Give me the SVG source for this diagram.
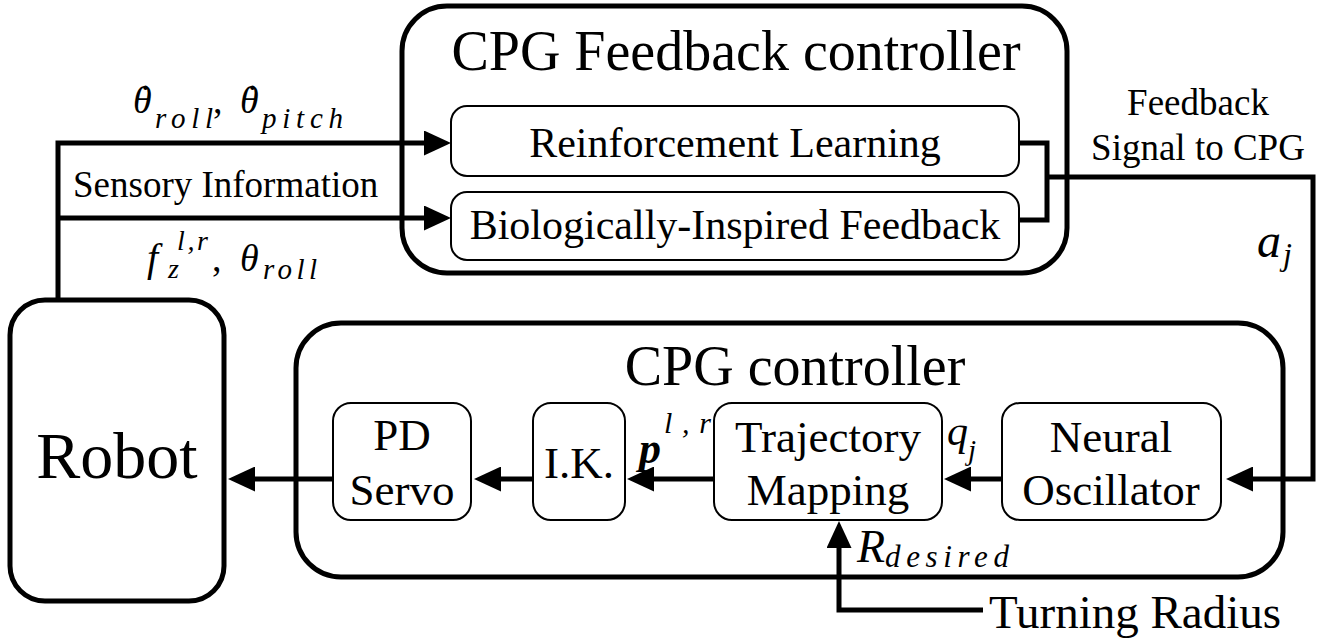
<svg xmlns="http://www.w3.org/2000/svg" width="1333" height="643" viewBox="0 0 1333 643" font-family="Liberation Serif, Times New Roman, serif">
<style>
.big{fill:#fff;stroke:#000;stroke-width:5}
.box{fill:#fff;stroke:#000;stroke-width:2}
.ln{fill:none;stroke:#000;stroke-width:5}
</style>
<defs>
<marker id="ah" markerUnits="userSpaceOnUse" markerWidth="27" markerHeight="25" refX="0" refY="12.5" orient="auto" viewBox="0 0 27 25">
<path d="M0,0 L27,12.5 L0,25 z" fill="#000"/>
</marker>
</defs>

<g id="fb-controller">
<rect class="big" x="402" y="6" width="665" height="267" rx="45"/>
<text x="736" y="70" font-family="Liberation Serif" font-size="56" text-anchor="middle">CPG Feedback controller</text>
</g>
<g id="rl">
<rect class="box" x="451" y="106" width="568" height="70" rx="16"/>
<text x="735" y="157" font-family="Liberation Serif" font-size="42" text-anchor="middle">Reinforcement Learning</text>
</g>
<g id="bif">
<rect class="box" x="451" y="192" width="568" height="68" rx="16"/>
<text x="735" y="239" font-family="Liberation Serif" font-size="42" text-anchor="middle">Biologically-Inspired Feedback</text>
</g>

<g id="cpg-controller">
<rect class="big" x="296" y="323" width="987" height="254" rx="45"/>
<text x="795" y="385" font-family="Liberation Serif" font-size="56" text-anchor="middle">CPG controller</text>
</g>

<g id="robot">
<rect class="big" x="10" y="300" width="214" height="301" rx="35"/>
<text x="117" y="478" font-family="Liberation Serif" font-size="66" text-anchor="middle">Robot</text>
</g>

<g id="pd">
<rect class="box" x="333" y="403" width="138" height="117" rx="18"/>
<text x="402" y="450" font-family="Liberation Serif" font-size="45" text-anchor="middle">PD</text>
<text x="402" y="505" font-family="Liberation Serif" font-size="45" text-anchor="middle">Servo</text>
</g>
<g id="ik">
<rect class="box" x="533" y="403" width="92" height="117" rx="18"/>
<text x="579" y="478" font-family="Liberation Serif" font-size="45" text-anchor="middle">I.K.</text>
</g>
<g id="traj">
<rect class="box" x="714" y="403" width="228" height="117" rx="18"/>
<text x="828" y="452" font-family="Liberation Serif" font-size="45" text-anchor="middle">Trajectory</text>
<text x="828" y="505" font-family="Liberation Serif" font-size="45" text-anchor="middle">Mapping</text>
</g>
<g id="neural">
<rect class="box" x="1002" y="403" width="219" height="117" rx="18"/>
<text x="1111" y="452" font-family="Liberation Serif" font-size="45" text-anchor="middle">Neural</text>
<text x="1111" y="505" font-family="Liberation Serif" font-size="45" text-anchor="middle">Oscillator</text>
</g>

<g id="connectors">
<path class="ln" d="M58,300 V143 H424" marker-end="url(#ah)"/>
<path class="ln" d="M58,218 H424" marker-end="url(#ah)"/>
<path class="ln" d="M1019,143 H1047 V220 H1019"/>
<path class="ln" d="M1047,177 H1313 V479 H1253" marker-end="url(#ah)"/>
<path class="ln" d="M1002,479 H971" marker-end="url(#ah)"/>
<path class="ln" d="M714,479 H654" marker-end="url(#ah)"/>
<path class="ln" d="M533,479 H501" marker-end="url(#ah)"/>
<path class="ln" d="M333,479 H255" marker-end="url(#ah)"/>
<path class="ln" d="M983,610 H839 V548" marker-end="url(#ah)"/>
</g>

<g id="labels">
<text x="73" y="197" font-family="Liberation Serif" font-size="37">Sensory Information</text>
<text x="1198" y="115" font-family="Liberation Serif" font-size="37" text-anchor="middle">Feedback</text>
<text x="1198" y="160" font-family="Liberation Serif" font-size="37" text-anchor="middle">Signal to CPG</text>
<text x="989" y="628" font-family="Liberation Serif" font-size="47">Turning Radius</text>

<text x="133" y="113" font-family="Liberation Serif" font-style="italic" font-size="38">θ<tspan dx="-11" dy="-23" font-style="normal">.</tspan></text>
<text x="155" y="128" font-family="Liberation Serif" font-style="italic" font-size="29" textLength="58" lengthAdjust="spacing">roll</text>
<text x="213" y="113" font-family="Liberation Serif" font-size="38">,</text>
<text x="240" y="113" font-family="Liberation Serif" font-style="italic" font-size="38">θ<tspan dx="-11" dy="-23" font-style="normal">.</tspan></text>
<text x="262" y="128" font-family="Liberation Serif" font-style="italic" font-size="29" textLength="81" lengthAdjust="spacing">pitch</text>

<text x="147" y="271" font-family="Liberation Serif" font-style="italic" font-size="40">f</text>
<text x="168" y="278" font-family="Liberation Serif" font-style="italic" font-size="28">z</text>
<text x="177" y="250" font-family="Liberation Serif" font-style="italic" font-size="28" textLength="31" lengthAdjust="spacing">l,r</text>
<text x="212" y="271" font-family="Liberation Serif" font-size="38">,</text>
<text x="240" y="271" font-family="Liberation Serif" font-style="italic" font-size="38">θ</text>
<text x="263" y="279" font-family="Liberation Serif" font-style="italic" font-size="29" textLength="54" lengthAdjust="spacing">roll</text>

<text x="1257" y="257" font-family="Liberation Serif" font-style="italic" font-size="48">a</text>
<text x="1283" y="265" font-family="Liberation Serif" font-style="italic" font-size="32">j</text>

<text x="947" y="445" font-family="Liberation Serif" font-style="italic" font-size="42">q</text>
<text x="968" y="460" font-family="Liberation Serif" font-style="italic" font-size="29">j</text>

<text x="639" y="463" font-family="Liberation Serif" font-style="italic" font-weight="bold" font-size="44">p</text>
<text x="664" y="433" font-family="Liberation Serif" font-style="italic" font-size="30" textLength="47" lengthAdjust="spacing">l,r</text>

<text x="857" y="562" font-family="Liberation Serif" font-style="italic" font-size="46">R</text>
<text x="885" y="567" font-family="Liberation Serif" font-style="italic" font-size="31" textLength="124" lengthAdjust="spacing">desired</text>
</g>
</svg>
